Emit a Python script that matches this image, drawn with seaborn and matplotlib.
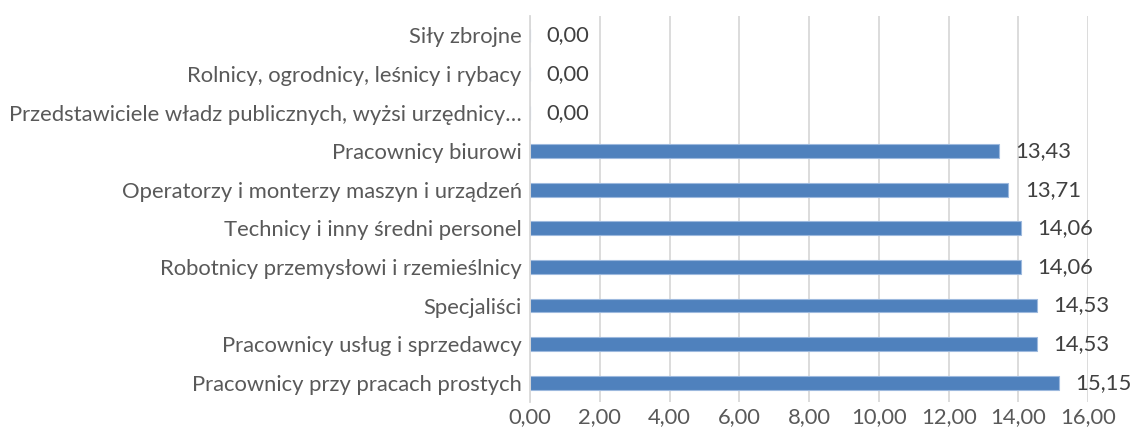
import matplotlib
matplotlib.use("Agg")
import matplotlib.pyplot as plt
import seaborn as sns
import pandas as pd

categories = [
    "Siły zbrojne",
    "Rolnicy, ogrodnicy, leśnicy i rybacy",
    "Przedstawiciele władz publicznych, wyżsi urzędnicy…",
    "Pracownicy biurowi",
    "Operatorzy i monterzy maszyn i urządzeń",
    "Technicy i inny średni personel",
    "Robotnicy przemysłowi i rzemieślnicy",
    "Specjaliści",
    "Pracownicy usług i sprzedawcy",
    "Pracownicy przy pracach prostych",
]
values = [0.00, 0.00, 0.00, 13.43, 13.71, 14.06, 14.06, 14.53, 14.53, 15.15]
xticks = [0, 2, 4, 6, 8, 10, 12, 14, 16]

sns.set_theme(style="white")
plt.rcParams['font.family'] = ['Lato', 'DejaVu Sans']

df = pd.DataFrame({"cat": categories, "val": values})

fig = plt.figure(figsize=(11.3, 4.44), dpi=100)
ax = fig.add_axes([0.469, 0.0946, 0.494, 0.869])

sns.barplot(data=df, y="cat", x="val", orient="h", color="#4F81BD",
            saturation=1, width=0.36, edgecolor="#9DB9DE", linewidth=0.8, ax=ax)

ax.set_xlim(0, 16)
ax.set_ylim(len(categories) - 0.5, -0.5)
ax.set_xticks(xticks)
ax.set_xticklabels([f"{t:.2f}".replace(".", ",") for t in xticks])
ax.set_xlabel("")
ax.set_ylabel("")
ax.grid(axis="x", color="#D9D9D9", linewidth=1.3)
ax.set_axisbelow(True)
for s in ["top", "right", "bottom"]:
    ax.spines[s].set_visible(False)
ax.spines["left"].set_color("#D9D9D9")
ax.spines["left"].set_linewidth(1.3)
ax.tick_params(axis="both", length=0, labelsize=15.8, colors="#595959")
ax.tick_params(axis="y", pad=6)
ax.tick_params(axis="x", pad=4)

for i, v in enumerate(values):
    ax.annotate(f"{v:.2f}".replace(".", ","), xy=(v, i), xytext=(12, 0),
                textcoords="offset points", va="center", ha="left",
                fontsize=15.8, color="#404040")

fig.savefig("out.png", dpi=100)
